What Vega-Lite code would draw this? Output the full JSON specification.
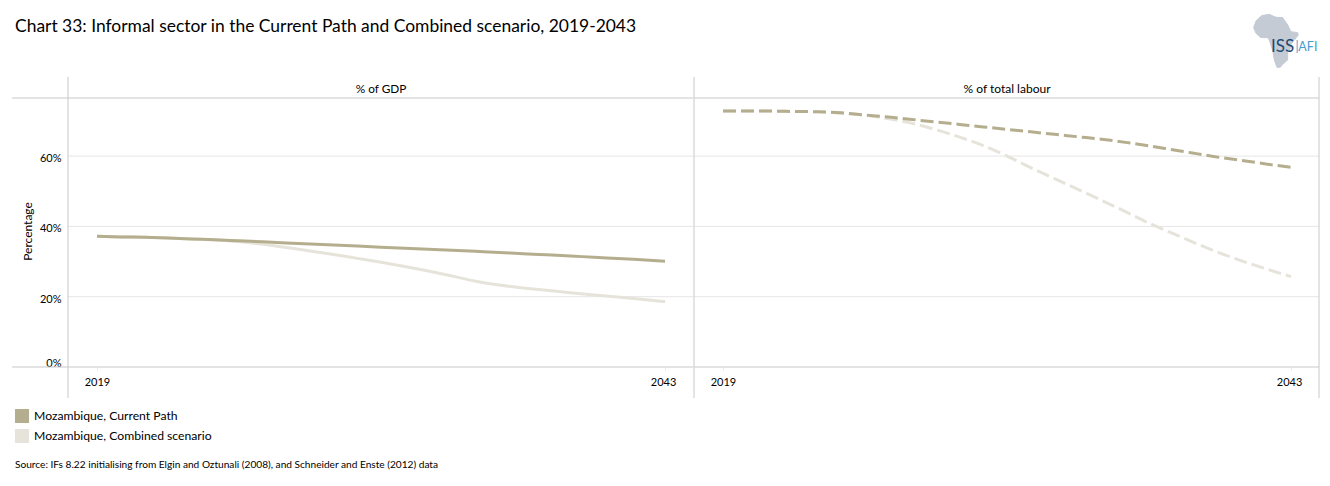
{
"$schema":"https://vega.github.io/schema/vega-lite/v6.json",
"background":"white",
"padding":{"left":11,"top":12,"right":10,"bottom":10},
"spacing":-4,
"title":{"text":"Chart 33: Informal sector in the Current Path and Combined scenario, 2019-2043","anchor":"start","frame":"group","font":"Lato","fontSize":17.45,"fontWeight":"normal","color":"#000000","dx":3,"offset":-23},
"config":{"view":{"stroke":null},"font":"Lato","axis":{"labelFont":"Lato","titleFont":"Lato"},"legend":{"labelFont":"Lato"},"text":{"font":"Lato"}},
"resolve":{"scale":{"color":"shared"},"legend":{"color":"shared"}},
"datasets":{
"series":[
{"panel":"GDP","scenario":"Mozambique, Combined scenario","year":2019,"value":37.2},{"panel":"GDP","scenario":"Mozambique, Combined scenario","year":2020,"value":37.0},{"panel":"GDP","scenario":"Mozambique, Combined scenario","year":2021,"value":36.9},{"panel":"GDP","scenario":"Mozambique, Combined scenario","year":2022,"value":36.7},{"panel":"GDP","scenario":"Mozambique, Combined scenario","year":2023,"value":36.4},{"panel":"GDP","scenario":"Mozambique, Combined scenario","year":2024,"value":36.1},{"panel":"GDP","scenario":"Mozambique, Combined scenario","year":2025,"value":35.6},{"panel":"GDP","scenario":"Mozambique, Combined scenario","year":2026,"value":34.9},{"panel":"GDP","scenario":"Mozambique, Combined scenario","year":2027,"value":34.0},{"panel":"GDP","scenario":"Mozambique, Combined scenario","year":2028,"value":33.0},{"panel":"GDP","scenario":"Mozambique, Combined scenario","year":2029,"value":32.0},{"panel":"GDP","scenario":"Mozambique, Combined scenario","year":2030,"value":30.9},{"panel":"GDP","scenario":"Mozambique, Combined scenario","year":2031,"value":29.8},{"panel":"GDP","scenario":"Mozambique, Combined scenario","year":2032,"value":28.6},{"panel":"GDP","scenario":"Mozambique, Combined scenario","year":2033,"value":27.3},{"panel":"GDP","scenario":"Mozambique, Combined scenario","year":2034,"value":25.9},{"panel":"GDP","scenario":"Mozambique, Combined scenario","year":2035,"value":24.4},{"panel":"GDP","scenario":"Mozambique, Combined scenario","year":2036,"value":23.3},{"panel":"GDP","scenario":"Mozambique, Combined scenario","year":2037,"value":22.5},{"panel":"GDP","scenario":"Mozambique, Combined scenario","year":2038,"value":21.8},{"panel":"GDP","scenario":"Mozambique, Combined scenario","year":2039,"value":21.1},{"panel":"GDP","scenario":"Mozambique, Combined scenario","year":2040,"value":20.5},{"panel":"GDP","scenario":"Mozambique, Combined scenario","year":2041,"value":19.9},{"panel":"GDP","scenario":"Mozambique, Combined scenario","year":2042,"value":19.3},{"panel":"GDP","scenario":"Mozambique, Combined scenario","year":2043,"value":18.6},
{"panel":"GDP","scenario":"Mozambique, Current Path","year":2019,"value":37.2},{"panel":"GDP","scenario":"Mozambique, Current Path","year":2020,"value":37.0},{"panel":"GDP","scenario":"Mozambique, Current Path","year":2021,"value":36.9},{"panel":"GDP","scenario":"Mozambique, Current Path","year":2022,"value":36.7},{"panel":"GDP","scenario":"Mozambique, Current Path","year":2023,"value":36.4},{"panel":"GDP","scenario":"Mozambique, Current Path","year":2024,"value":36.2},{"panel":"GDP","scenario":"Mozambique, Current Path","year":2025,"value":35.9},{"panel":"GDP","scenario":"Mozambique, Current Path","year":2026,"value":35.6},{"panel":"GDP","scenario":"Mozambique, Current Path","year":2027,"value":35.3},{"panel":"GDP","scenario":"Mozambique, Current Path","year":2028,"value":35.0},{"panel":"GDP","scenario":"Mozambique, Current Path","year":2029,"value":34.7},{"panel":"GDP","scenario":"Mozambique, Current Path","year":2030,"value":34.4},{"panel":"GDP","scenario":"Mozambique, Current Path","year":2031,"value":34.1},{"panel":"GDP","scenario":"Mozambique, Current Path","year":2032,"value":33.8},{"panel":"GDP","scenario":"Mozambique, Current Path","year":2033,"value":33.5},{"panel":"GDP","scenario":"Mozambique, Current Path","year":2034,"value":33.2},{"panel":"GDP","scenario":"Mozambique, Current Path","year":2035,"value":32.9},{"panel":"GDP","scenario":"Mozambique, Current Path","year":2036,"value":32.6},{"panel":"GDP","scenario":"Mozambique, Current Path","year":2037,"value":32.2},{"panel":"GDP","scenario":"Mozambique, Current Path","year":2038,"value":31.9},{"panel":"GDP","scenario":"Mozambique, Current Path","year":2039,"value":31.6},{"panel":"GDP","scenario":"Mozambique, Current Path","year":2040,"value":31.2},{"panel":"GDP","scenario":"Mozambique, Current Path","year":2041,"value":30.9},{"panel":"GDP","scenario":"Mozambique, Current Path","year":2042,"value":30.5},{"panel":"GDP","scenario":"Mozambique, Current Path","year":2043,"value":30.1},
{"panel":"Labour","scenario":"Mozambique, Combined scenario","year":2019,"value":72.8},{"panel":"Labour","scenario":"Mozambique, Combined scenario","year":2020,"value":72.8},{"panel":"Labour","scenario":"Mozambique, Combined scenario","year":2021,"value":72.8},{"panel":"Labour","scenario":"Mozambique, Combined scenario","year":2022,"value":72.7},{"panel":"Labour","scenario":"Mozambique, Combined scenario","year":2023,"value":72.6},{"panel":"Labour","scenario":"Mozambique, Combined scenario","year":2024,"value":72.2},{"panel":"Labour","scenario":"Mozambique, Combined scenario","year":2025,"value":71.6},{"panel":"Labour","scenario":"Mozambique, Combined scenario","year":2026,"value":70.6},{"panel":"Labour","scenario":"Mozambique, Combined scenario","year":2027,"value":69.3},{"panel":"Labour","scenario":"Mozambique, Combined scenario","year":2028,"value":67.5},{"panel":"Labour","scenario":"Mozambique, Combined scenario","year":2029,"value":65.4},{"panel":"Labour","scenario":"Mozambique, Combined scenario","year":2030,"value":63.0},{"panel":"Labour","scenario":"Mozambique, Combined scenario","year":2031,"value":60.0},{"panel":"Labour","scenario":"Mozambique, Combined scenario","year":2032,"value":56.7},{"panel":"Labour","scenario":"Mozambique, Combined scenario","year":2033,"value":53.6},{"panel":"Labour","scenario":"Mozambique, Combined scenario","year":2034,"value":50.5},{"panel":"Labour","scenario":"Mozambique, Combined scenario","year":2035,"value":47.4},{"panel":"Labour","scenario":"Mozambique, Combined scenario","year":2036,"value":44.2},{"panel":"Labour","scenario":"Mozambique, Combined scenario","year":2037,"value":40.9},{"panel":"Labour","scenario":"Mozambique, Combined scenario","year":2038,"value":38.0},{"panel":"Labour","scenario":"Mozambique, Combined scenario","year":2039,"value":35.1},{"panel":"Labour","scenario":"Mozambique, Combined scenario","year":2040,"value":32.4},{"panel":"Labour","scenario":"Mozambique, Combined scenario","year":2041,"value":30.0},{"panel":"Labour","scenario":"Mozambique, Combined scenario","year":2042,"value":27.8},{"panel":"Labour","scenario":"Mozambique, Combined scenario","year":2043,"value":25.7},
{"panel":"Labour","scenario":"Mozambique, Current Path","year":2019,"value":72.8},{"panel":"Labour","scenario":"Mozambique, Current Path","year":2020,"value":72.8},{"panel":"Labour","scenario":"Mozambique, Current Path","year":2021,"value":72.8},{"panel":"Labour","scenario":"Mozambique, Current Path","year":2022,"value":72.7},{"panel":"Labour","scenario":"Mozambique, Current Path","year":2023,"value":72.6},{"panel":"Labour","scenario":"Mozambique, Current Path","year":2024,"value":72.3},{"panel":"Labour","scenario":"Mozambique, Current Path","year":2025,"value":71.7},{"panel":"Labour","scenario":"Mozambique, Current Path","year":2026,"value":71.1},{"panel":"Labour","scenario":"Mozambique, Current Path","year":2027,"value":70.4},{"panel":"Labour","scenario":"Mozambique, Current Path","year":2028,"value":69.7},{"panel":"Labour","scenario":"Mozambique, Current Path","year":2029,"value":69.0},{"panel":"Labour","scenario":"Mozambique, Current Path","year":2030,"value":68.3},{"panel":"Labour","scenario":"Mozambique, Current Path","year":2031,"value":67.6},{"panel":"Labour","scenario":"Mozambique, Current Path","year":2032,"value":66.9},{"panel":"Labour","scenario":"Mozambique, Current Path","year":2033,"value":66.2},{"panel":"Labour","scenario":"Mozambique, Current Path","year":2034,"value":65.5},{"panel":"Labour","scenario":"Mozambique, Current Path","year":2035,"value":64.8},{"panel":"Labour","scenario":"Mozambique, Current Path","year":2036,"value":63.9},{"panel":"Labour","scenario":"Mozambique, Current Path","year":2037,"value":62.9},{"panel":"Labour","scenario":"Mozambique, Current Path","year":2038,"value":61.8},{"panel":"Labour","scenario":"Mozambique, Current Path","year":2039,"value":60.7},{"panel":"Labour","scenario":"Mozambique, Current Path","year":2040,"value":59.6},{"panel":"Labour","scenario":"Mozambique, Current Path","year":2041,"value":58.7},{"panel":"Labour","scenario":"Mozambique, Current Path","year":2042,"value":57.7},{"panel":"Labour","scenario":"Mozambique, Current Path","year":2043,"value":56.8}
],
"africa":[
{"o":1,"year":2041.757,"value":99.96},{"o":2,"year":2042.081,"value":100.33},{"o":3,"year":2042.363,"value":99.48},{"o":4,"year":2042.644,"value":99.39},{"o":5,"year":2042.856,"value":97.3},{"o":6,"year":2042.996,"value":95.4},{"o":7,"year":2043.278,"value":95.12},{"o":8,"year":2043.306,"value":94.46},{"o":9,"year":2042.996,"value":91.8},{"o":10,"year":2042.996,"value":90.66},{"o":11,"year":2042.856,"value":89.71},{"o":12,"year":2042.856,"value":87.34},{"o":13,"year":2042.644,"value":86.11},{"o":14,"year":2042.546,"value":85.26},{"o":15,"year":2042.405,"value":85.26},{"o":16,"year":2042.292,"value":87.34},{"o":17,"year":2042.236,"value":89.71},{"o":18,"year":2042.081,"value":93.03},{"o":19,"year":2042.011,"value":93.7},{"o":20,"year":2041.729,"value":93.7},{"o":21,"year":2041.518,"value":94.93},{"o":22,"year":2041.419,"value":96.54},{"o":23,"year":2041.518,"value":98.44},{"o":24,"year":2041.757,"value":99.96}
]
},
"hconcat":[
{"width":681,"height":321,
"encoding":{
"x":{"field":"year","type":"quantitative","scale":{"domain":[2015.41,2044.18],"nice":false,"zero":false},"axis":{"values":[2019,2043],"format":"d","title":null,"grid":false,"domain":false,"offset":-31,"tickSize":3,"tickColor":"#e8e8e8","labelFontSize":11,"labelColor":"#000000","labelPadding":6,"labelFont":"Lato","labelOffset":{"condition":{"test":"datum.value===2043","value":-2},"value":0}}},
"y":{"field":"value","type":"quantitative","scale":{"domain":[-8.82,82.5],"nice":false,"zero":false},"axis":{"values":[0,20,40,60],"labelExpr":"datum.value+'%'","title":"Percentage","titleFontSize":12,"titleFontWeight":"normal","titleColor":"#000000","titleX":-34,"titleY":154,"grid":false,"domain":false,"ticks":false,"offset":-56,"labelFontSize":11,"labelColor":"#000000","labelPadding":7,"labelOffset":{"condition":{"test":"datum.value===0","value":-3.5},"value":2.5}}}
},
"layer":[
{"data":{"values":[{"year":2017.775,"year2":2044.18,"value":20},{"year":2017.775,"year2":2044.18,"value":40},{"year":2017.775,"year2":2044.18,"value":60}]},"mark":{"type":"rule","color":"#e6e6e6","strokeWidth":1},"encoding":{"x2":{"field":"year2"}}},
{"data":{"values":[{"year":2015.41,"year2":2044.18,"value":0},{"year":2015.41,"year2":2044.18,"value":76.53}]},"mark":{"type":"rule","color":"#c8c8c8","strokeWidth":1},"encoding":{"x2":{"field":"year2"}}},
{"data":{"values":[{"year":2017.775,"value":-8.82,"value2":82.5}]},"mark":{"type":"rule","color":"#c8c8c8","strokeWidth":1},"encoding":{"y2":{"field":"value2"}}},
{"data":{"name":"series"},"transform":[{"filter":"datum.panel==='GDP'"}],"mark":{"type":"line","strokeWidth":3,"interpolate":"monotone"},"encoding":{"color":{"field":"scenario","type":"nominal","scale":{"domain":["Mozambique, Current Path","Mozambique, Combined scenario"],"range":["#b5ae8e","#e6e4da"]},"legend":{"title":null,"orient":"none","legendX":3,"legendY":332,"symbolType":"square","symbolSize":49,"symbolStrokeWidth":7,"labelFontSize":12.2,"labelColor":"#000000","labelFont":"Lato","labelOffset":5,"labelLimit":300,"clipHeight":14,"rowPadding":6,"symbolOffset":0}}}},
{"data":{"values":[{"year":2031,"value":79.1,"label":"% of GDP"}]},"mark":{"type":"text","fontSize":11.8,"color":"#000000","baseline":"middle"},"encoding":{"text":{"field":"label"}}},
{"data":{"values":[{"year":2015.536,"value":-27.88,"label":"Source: IFs 8.22 initialising from Elgin and Oztunali (2008), and Schneider and Enste (2012) data"}]},"mark":{"type":"text","fontSize":10.15,"color":"#000000","baseline":"middle","align":"left"},"encoding":{"text":{"field":"label"}}}
]},
{"width":625,"height":321,
"encoding":{
"x":{"field":"year","type":"quantitative","scale":{"domain":[2017.775,2044.18],"nice":false,"zero":false},"axis":{"values":[2019,2043],"format":"d","title":null,"grid":false,"domain":false,"offset":-31,"tickSize":3,"tickColor":"#e8e8e8","labelFontSize":11,"labelColor":"#000000","labelPadding":6,"labelFont":"Lato","labelOffset":{"condition":{"test":"datum.value===2043","value":-2},"value":0}}},
"y":{"field":"value","type":"quantitative","scale":{"domain":[-8.82,82.5],"nice":false,"zero":false},"axis":null}
},
"layer":[
{"data":{"values":[{"year":2017.775,"year2":2044.18,"value":20},{"year":2017.775,"year2":2044.18,"value":40},{"year":2017.775,"year2":2044.18,"value":60}]},"mark":{"type":"rule","color":"#e6e6e6","strokeWidth":1},"encoding":{"x2":{"field":"year2"}}},
{"data":{"values":[{"year":2017.775,"year2":2044.18,"value":0},{"year":2017.775,"year2":2044.18,"value":76.53}]},"mark":{"type":"rule","color":"#c8c8c8","strokeWidth":1},"encoding":{"x2":{"field":"year2"}}},
{"data":{"values":[{"year":2017.775,"value":-8.82,"value2":82.5},{"year":2044.18,"value":-8.82,"value2":82.5}]},"mark":{"type":"rule","color":"#c8c8c8","strokeWidth":1},"encoding":{"y2":{"field":"value2"}}},
{"data":{"name":"series"},"transform":[{"filter":"datum.panel==='Labour'"}],"mark":{"type":"line","strokeWidth":3,"strokeDash":[13,5],"interpolate":"monotone"},"encoding":{"color":{"field":"scenario","type":"nominal"}}},
{"data":{"values":[{"year":2031,"value":79.1,"label":"% of total labour"}]},"mark":{"type":"text","fontSize":12,"color":"#000000","baseline":"middle"},"encoding":{"text":{"field":"label"}}},
{"data":{"name":"africa"},"mark":{"type":"line","fill":"#c5cbd5","stroke":"#c5cbd5","strokeWidth":1,"interpolate":"linear"},"encoding":{"order":{"field":"o","type":"quantitative"}}},
{"data":{"values":[{"year":2042.64,"value":91.0,"label":"ISS"}]},"mark":{"type":"text","fontSize":17,"color":"#1f4a73","baseline":"middle"},"encoding":{"text":{"field":"label"}}},
{"data":{"values":[{"year":2043.25,"value":91.0,"label":"|"},{"year":2043.71,"value":91.0,"label":"AFI"}]},"mark":{"type":"text","fontSize":12.5,"color":"#4a9bd0","baseline":"middle"},"encoding":{"text":{"field":"label"}}}
]}
]
}
